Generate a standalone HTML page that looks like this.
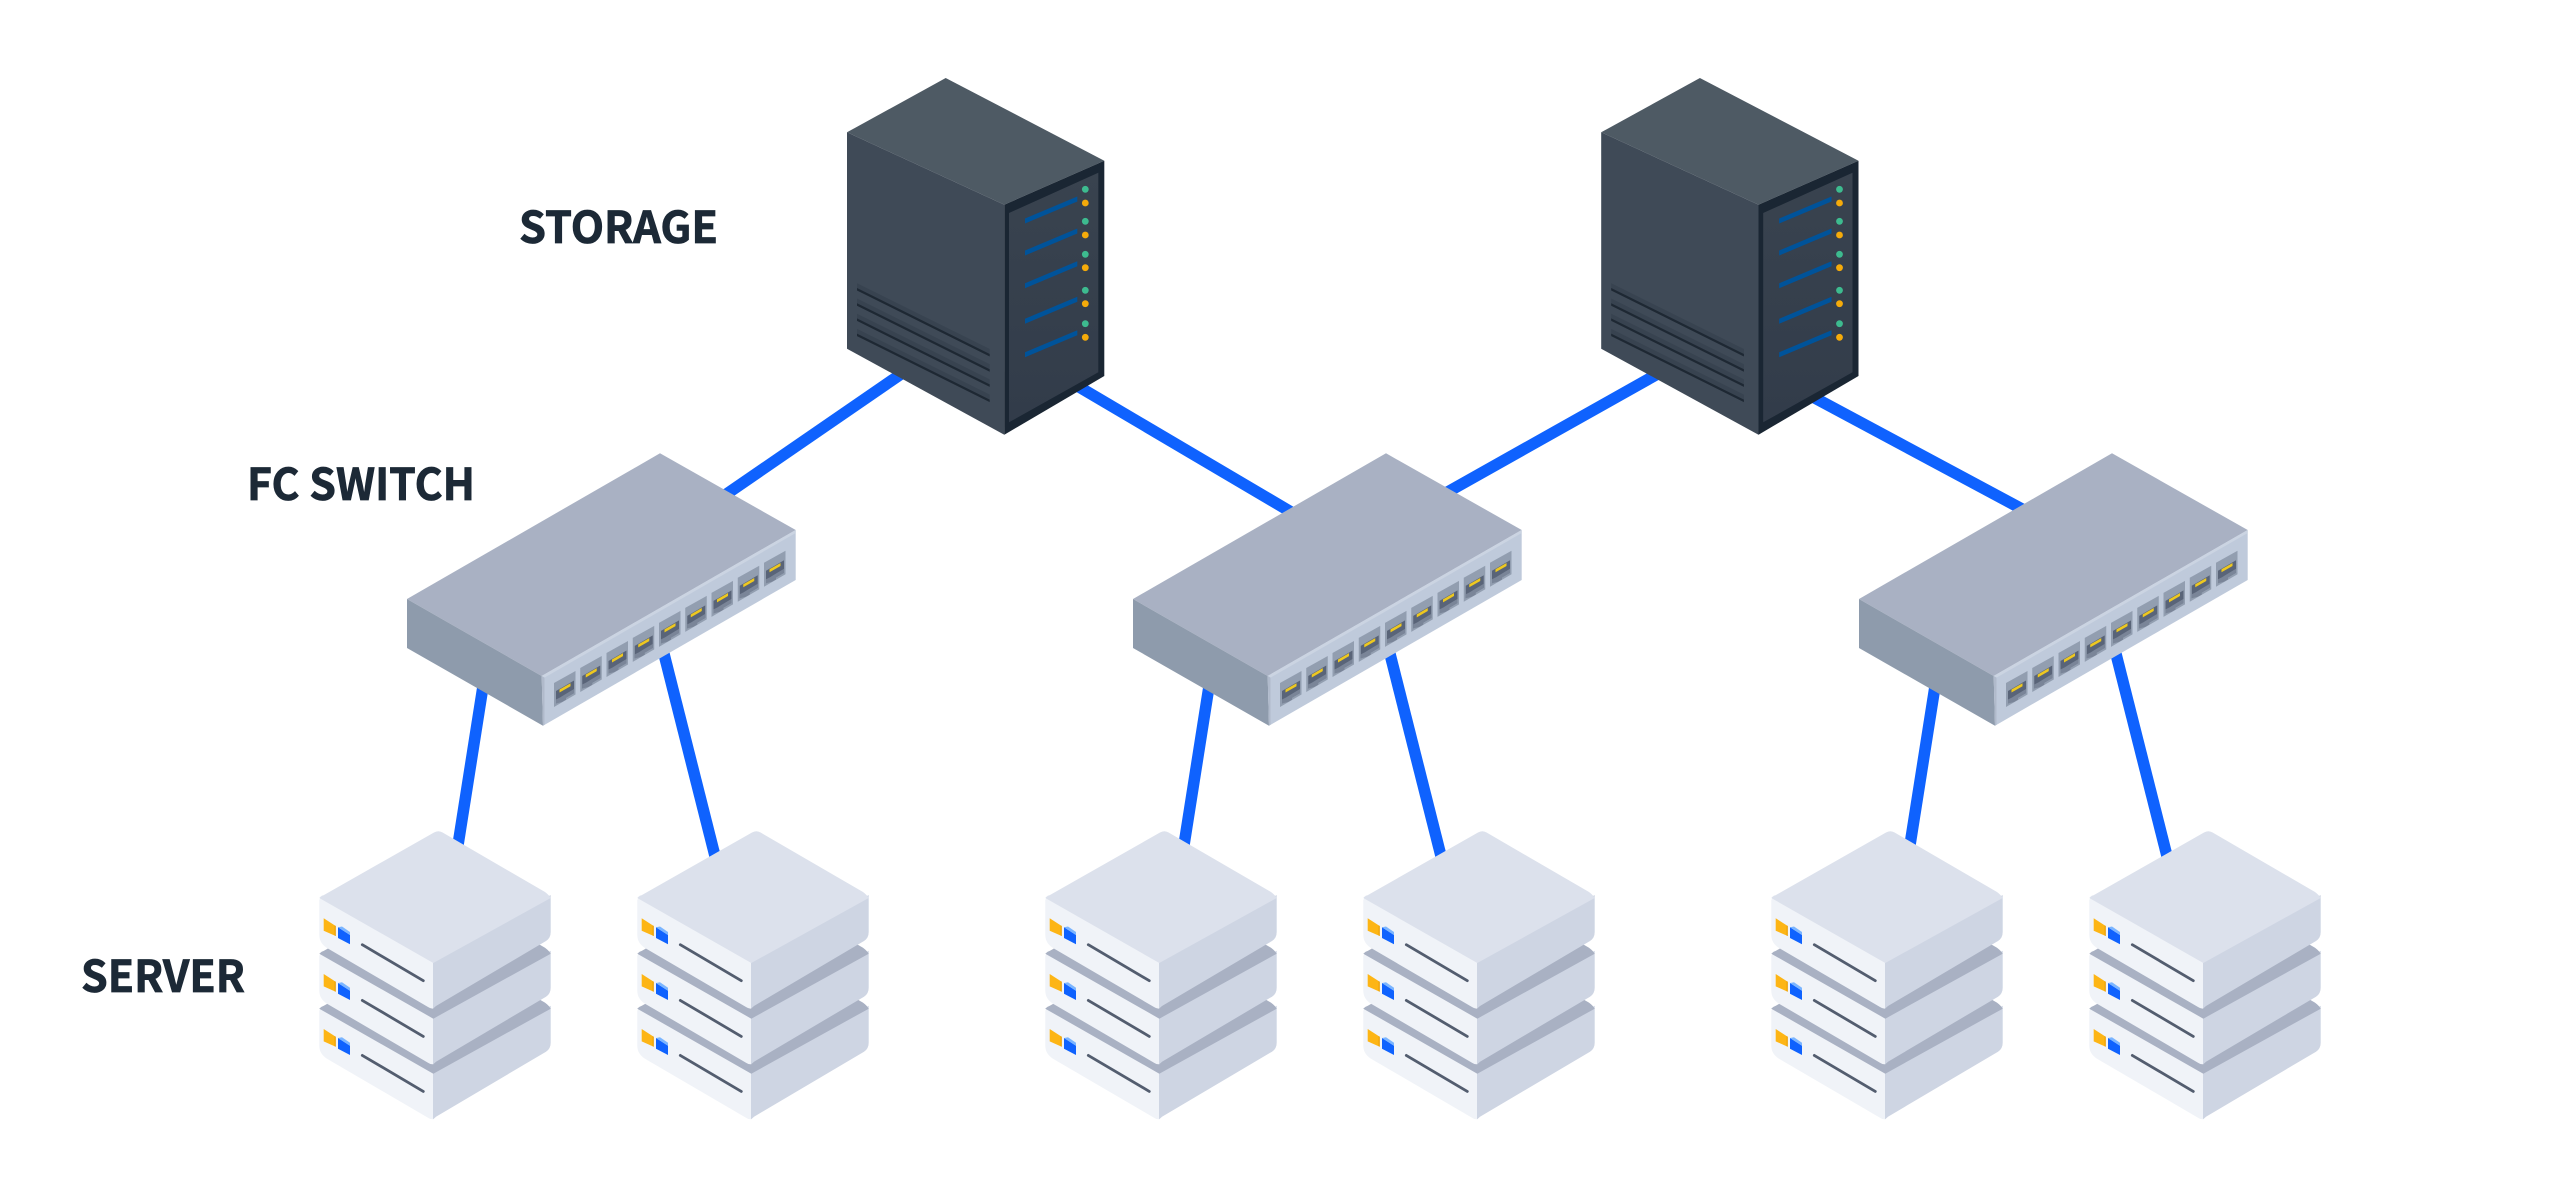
<!DOCTYPE html>
<html><head><meta charset="utf-8"><style>
html,body{margin:0;padding:0;background:#fff;width:2568px;height:1178px;overflow:hidden}
svg{display:block}
text{font-family:"Noto Sans CJK JP","Liberation Sans",sans-serif;font-weight:700;font-size:44px;fill:#1c2936;stroke:#1c2936;stroke-width:0.8px}
</style></head><body>
<svg width="2568" height="1178" viewBox="0 0 2568 1178" xmlns="http://www.w3.org/2000/svg">
<defs>
<linearGradient id="pg" x1="0" y1="0" x2="0" y2="1"><stop offset="0" stop-color="#39434f"/><stop offset="1" stop-color="#323c4a"/></linearGradient>
<g id="vent"><polygon points="857,283.3 989.7,349 989.7,355 857,289.3" fill="#384350"/><polygon points="857,288 989.7,354 989.7,356.5 857,290.5" fill="#1e2833"/></g>
<g id="bar"><polygon points="1025,218.5 1077.3,196.5 1077.3,201.5 1025,223.5" fill="#00539a"/></g>
<g id="storage">
<polygon points="945.7,78 1104.3,160.7 1004.3,204.7 847,132.3" fill="#4e5a64"/>
<polygon points="847,132.3 1004.3,204.7 1004.3,434.7 847,348.7" fill="#3f4a57"/>
<polygon points="1004.3,204.7 1104.3,160.7 1104.3,376 1004.3,434.7" fill="#1a2633"/>
<polygon points="1009,213 1098.3,172.7 1098.3,372.3 1009,422.3" fill="url(#pg)"/>
<use href="#vent"/><use href="#vent" y="15.2"/><use href="#vent" y="30.4"/><use href="#vent" y="45.6"/>
<use href="#bar"/><use href="#bar" y="32"/><use href="#bar" y="64.7"/><use href="#bar" y="100.3"/><use href="#bar" y="133.7"/>
<g fill="#3dbb8f"><circle cx="1085.3" cy="189.3" r="3.4"/><circle cx="1085.3" cy="221.3" r="3.4"/><circle cx="1085.3" cy="254.3" r="3.4"/><circle cx="1085.3" cy="290.3" r="3.4"/><circle cx="1085.3" cy="323.7" r="3.4"/></g>
<g fill="#f5ab0a"><circle cx="1085.3" cy="203" r="3.4"/><circle cx="1085.3" cy="235" r="3.4"/><circle cx="1085.3" cy="267.7" r="3.4"/><circle cx="1085.3" cy="303.7" r="3.4"/><circle cx="1085.3" cy="337.3" r="3.4"/></g>
</g>
<g id="port">
<polygon points="554,683 575.5,671 575.5,694.5 554,707" fill="#929eb0"/>
<polygon points="556,691 574,680.5 574,693 556,703.5" fill="#596478"/>
<polygon points="560,697.5 564,695 574,689 574,693 566,697.7 566,699.8 562,702 556,703.5 556,699.5" fill="#7a8598"/>
<polygon points="559.5,689.5 570.5,683.2 570.5,686.2 559.5,692.5" fill="#eec81f"/>
</g>
<g id="switch">
<polygon points="660,453.3 795.7,530 541.7,676 407,599" fill="#a9b1c3"/>
<polygon points="407,599 541.7,676 543,725.7 407,648" fill="#8e9bac"/>
<polygon points="541.7,676 795.7,530 795.7,580 543,725.7" fill="#bfcadb"/>
<polygon points="541.7,676 795.7,530 795.7,533 544.5,677.6" fill="#cbd4e2"/>
<polygon points="541.7,676 544.5,677.6 544.5,724.8 543,725.7" fill="#b0bacb"/>
<use href="#port"/><use href="#port" x="26.25" y="-15.03"/><use href="#port" x="52.5" y="-30.06"/><use href="#port" x="78.75" y="-45.09"/><use href="#port" x="105" y="-60.12"/><use href="#port" x="131.25" y="-75.15"/><use href="#port" x="157.5" y="-90.18"/><use href="#port" x="183.75" y="-105.21"/><use href="#port" x="210" y="-120.24"/>
</g>
<g id="layerbase">
<path d="M319.3,900 L322,895 L433.3,960 L433.3,1008.5 Q431,1009 428,1007 L327,948 Q319.3,943 319.3,935 Z" fill="#f0f3f8"/>
<path d="M433,962 L550.7,895 L550.7,932 Q550.7,938 546,941 L436,1006 Q433.3,1008.5 433,1008.5 Z" fill="#ced5e3"/>
<polygon points="323.7,918.3 335.7,926 335.7,936 323.7,930.7" fill="#fdb515"/>
<polygon points="334.7,925.4 335.7,926 335.7,936 334.7,935.6" fill="#e89b00"/>
<polygon points="338,927.3 350,935 350,944.3 338,938" fill="#0f62fe"/>
<polygon points="338,927.3 342,926.5 350,932 350,935" fill="#7bb5ff"/>
<line x1="362.3" y1="944.7" x2="423.3" y2="980.7" stroke="#535d6f" stroke-width="2.8" stroke-linecap="round"/>
</g>
<path id="topface" d="M434,832.5 Q438.3,830 442.6,832.5 L545,892 Q549,895 550.7,898 L433.3,963 L319.3,898 Q321,896 324,895 Z"/>
<g id="server">
<use href="#topface" y="110.7" fill="#a9b1c3"/><use href="#layerbase" y="110.7"/><use href="#topface" y="110.7" fill="#a9b1c3"/>
<use href="#layerbase" y="55.7"/><use href="#topface" y="55.7" fill="#a9b1c3"/>
<use href="#layerbase"/><use href="#topface" fill="#dce1ec"/>
</g>
<g id="lines2" stroke="#0f62fe" stroke-width="11.5" fill="none">
<line x1="484" y1="680" x2="458" y2="845"/>
<line x1="663" y1="650" x2="716" y2="860"/>
</g>
<g id="group">
<use href="#lines2"/>
<use href="#switch"/>
<use href="#server"/>
<use href="#server" x="318"/>
</g>
</defs>
<rect width="2568" height="1178" fill="#fff"/>
<g stroke="#0f62fe" stroke-width="11.5" fill="none">
<line x1="715" y1="502" x2="920" y2="361"/>
<line x1="1060" y1="375.7" x2="1300" y2="517.3"/>
<line x1="1437" y1="498" x2="1670" y2="367"/>
<line x1="1800" y1="390" x2="2035" y2="516"/>
</g>
<use href="#group"/>
<use href="#group" x="726"/>
<use href="#group" x="1452"/>
<use href="#storage"/>
<use href="#storage" x="754.2"/>
<text x="519" y="243" textLength="199" lengthAdjust="spacingAndGlyphs">STORAGE</text>
<text x="247" y="500" textLength="228" lengthAdjust="spacingAndGlyphs">FC SWITCH</text>
<text x="81" y="992" textLength="164" lengthAdjust="spacingAndGlyphs">SERVER</text>
</svg>
</body></html>
